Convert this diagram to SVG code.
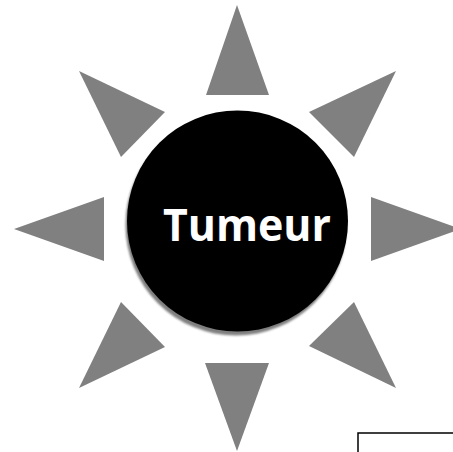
<svg xmlns="http://www.w3.org/2000/svg" width="453" height="452" viewBox="0 0 453 452">
<style>
.ray{fill:#808080;}
.lbl{font-family:"Open Sans","DejaVu Sans",sans-serif;font-weight:bold;fill:#ffffff;}
</style>
<defs>
<filter id="sh" x="-10%" y="-10%" width="120%" height="120%"><feGaussianBlur stdDeviation="0.8"/></filter>
</defs>
<rect width="453" height="452" fill="#ffffff"/>
<g id="rays">
<polygon class="ray" points="237,5 269,95 206,95"/>
<polygon class="ray" points="396,71 354,157 309,112"/>
<polygon class="ray" points="461,229 371,261 371,197"/>
<polygon class="ray" points="396,388 309,346 354,302"/>
<polygon class="ray" points="237,451 205,363 269,363"/>
<polygon class="ray" points="79,388 121,302 165,347"/>
<polygon class="ray" points="14,229 104,197 104,261"/>
<polygon class="ray" points="79,71 165,112 121,157"/>
</g>
<g id="tumeur">
<circle cx="236" cy="225" r="110.5" fill="#7f7f7f" filter="url(#sh)"/>
<circle cx="237.5" cy="221" r="110.5" fill="#000000"/>
<text class="lbl" x="163" y="241" font-size="45" textLength="168" lengthAdjust="spacingAndGlyphs">Tumeur</text>
</g>
<g id="frame">
<polyline points="358,452 358,433 453,433" fill="none" stroke="#000000" stroke-width="1.5"/>
</g>
</svg>
